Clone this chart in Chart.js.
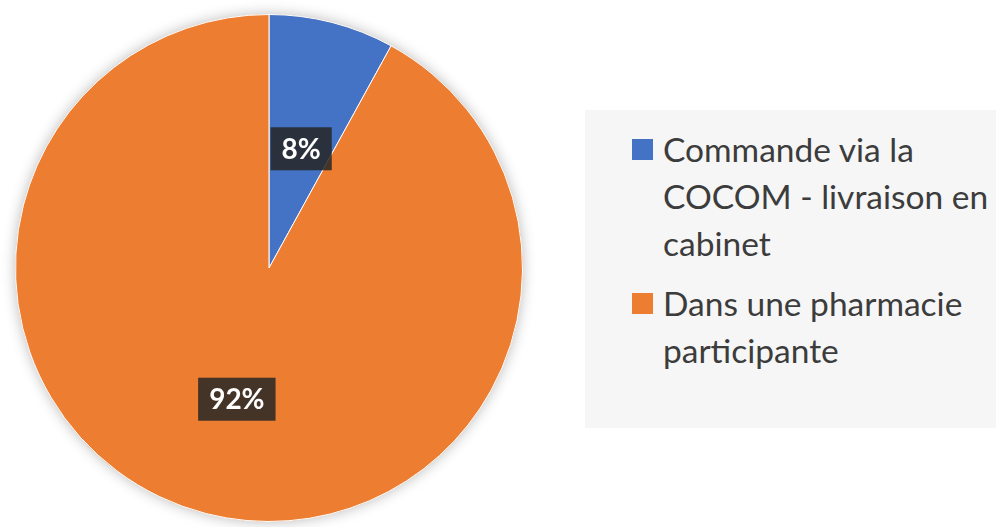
<!DOCTYPE html>
<html>
<head>
<meta charset="utf-8">
<script src="https://cdn.jsdelivr.net/npm/chart.js@4"></script>
<style>
  html, body { margin: 0; padding: 0; background: #fff; }
  #wrap { position: relative; width: 996px; height: 527px; overflow: hidden; }
  #pie { position: absolute; left: 0; top: 0; }
  #legend {
    position: absolute; left: 585px; top: 110px; width: 411px; height: 318px;
    background: #f6f6f6; box-sizing: border-box; padding: 16px 0 0 47px;
    font-family: Lato, "Open Sans", sans-serif; font-size: 33.5px; color: #3c3c3c;
  }
  .item { display: flex; align-items: flex-start; margin-bottom: 13px; }
  .box { width: 21px; height: 21px; flex: none; margin: 13px 10px 0 0; }
  .txt { line-height: 47px; width: 334px; white-space: normal; }
</style>
</head>
<body>
<div id="wrap">
  <canvas id="pie" width="996" height="527"></canvas>
  <div id="legend"></div>
</div>
<script>
const categories = [
  "Commande via la COCOM - livraison en cabinet",
  "Dans une pharmacie participante"
];
const shares = [8, 92];
const colors = ["#4472c4", "#ed7d31"];

// soft glow under the pie
const pieShadow = {
  id: "pieShadow",
  beforeDatasetsDraw(chart) {
    const arc = chart.getDatasetMeta(0).data[0];
    if (!arc) return;
    const ctx = chart.ctx;
    ctx.save();
    ctx.shadowColor = "rgba(0,0,0,0.28)";
    ctx.shadowBlur = 14;
    ctx.fillStyle = "#ed7d31";
    ctx.beginPath();
    ctx.arc(arc.x, arc.y, arc.outerRadius, 0, Math.PI * 2);
    ctx.fill();
    ctx.restore();
  }
};

// dark value boxes inside the slices
const valueLabels = {
  id: "valueLabels",
  afterDatasetsDraw(chart) {
    const ctx = chart.ctx;
    const meta = chart.getDatasetMeta(0);
    ctx.save();
    ctx.font = "bold 28px Lato, 'Open Sans', sans-serif";
    ctx.textAlign = "center";
    ctx.textBaseline = "middle";
    meta.data.forEach((arc, i) => {
      const mid = (arc.startAngle + arc.endAngle) / 2;
      const r = arc.outerRadius * 0.51;
      const x = arc.x + Math.cos(mid) * r;
      const y = arc.y + Math.sin(mid) * r + 6;
      const text = shares[i] + "%";
      const w = ctx.measureText(text).width + 22;
      const h = 43;
      ctx.fillStyle = "rgba(38,38,38,0.85)";
      ctx.fillRect(x - w / 2, y - h / 2, w, h);
      ctx.fillStyle = "#ffffff";
      ctx.fillText(text, x, y + 1);
    });
    ctx.restore();
  }
};

const chart = new Chart(document.getElementById("pie"), {
  type: "pie",
  data: {
    labels: categories,
    datasets: [{
      data: shares,
      backgroundColor: colors,
      borderColor: "#ffffff",
      borderWidth: 1
    }]
  },
  options: {
    responsive: false,
    animation: false,
    layout: { padding: { left: 14, top: 14, right: 472, bottom: 5 } },
    plugins: {
      legend: { display: false },
      tooltip: { enabled: false }
    }
  },
  plugins: [pieShadow, valueLabels]
});

// legend beside the pie, built from the chart's own labels
const legendEl = document.getElementById("legend");
chart.options.plugins.legend.labels.generateLabels(chart).forEach((item) => {
  const row = document.createElement("div");
  row.className = "item";
  const box = document.createElement("span");
  box.className = "box";
  box.style.background = item.fillStyle;
  const txt = document.createElement("span");
  txt.className = "txt";
  txt.textContent = item.text;
  row.appendChild(box);
  row.appendChild(txt);
  legendEl.appendChild(row);
});
</script>
</body>
</html>
